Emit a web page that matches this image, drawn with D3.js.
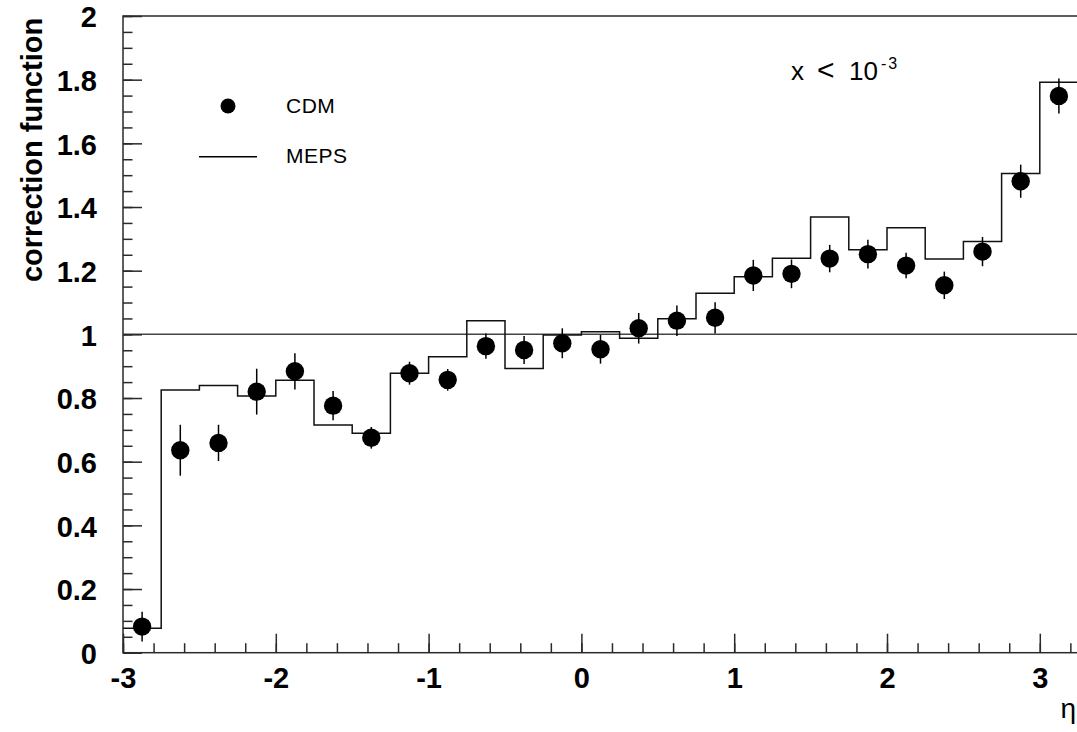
<!DOCTYPE html>
<html>
<head>
<meta charset="utf-8">
<script src="https://cdn.jsdelivr.net/npm/d3@7"></script>
<style>
  html, body { margin: 0; padding: 0; background: #fff; }
  svg { display: block; }
</style>
</head>
<body>
<svg id="chart" width="1077" height="732"></svg>
<script>
// ---- data ----
const binEdges = [-3.0, -2.75, -2.5, -2.25, -2.0, -1.75, -1.5, -1.25, -1.0, -0.75, -0.5, -0.25, 0.0,
                  0.25, 0.5, 0.75, 1.0, 1.25, 1.5, 1.75, 2.0, 2.25, 2.5, 2.75, 3.0, 3.25];
const etaCenters = [-2.875, -2.625, -2.375, -2.125, -1.875, -1.625, -1.375, -1.125, -0.875, -0.625, -0.375, -0.125,
                    0.125, 0.375, 0.625, 0.875, 1.125, 1.375, 1.625, 1.875, 2.125, 2.375, 2.625, 2.875, 3.125];
const cdmValues = [0.082, 0.636, 0.659, 0.820, 0.884, 0.776, 0.675, 0.878, 0.857, 0.963, 0.951, 0.972,
                   0.953, 1.019, 1.043, 1.052, 1.185, 1.190, 1.238, 1.252, 1.216, 1.154, 1.260, 1.481, 1.749];
const cdmErrors = [0.047, 0.080, 0.057, 0.072, 0.057, 0.046, 0.034, 0.036, 0.034, 0.040, 0.044, 0.047,
                   0.045, 0.048, 0.048, 0.049, 0.049, 0.045, 0.043, 0.045, 0.040, 0.043, 0.046, 0.052, 0.055];
const mepsValues = [0.077, 0.825, 0.839, 0.806, 0.856, 0.715, 0.689, 0.878, 0.930, 1.043, 0.893, 0.998,
                    1.008, 0.988, 1.049, 1.129, 1.181, 1.239, 1.369, 1.266, 1.335, 1.237, 1.292, 1.505, 1.792];
const xTickValues = [-3, -2, -1, 0, 1, 2, 3];
const xTickLabels = ["-3", "-2", "-1", "0", "1", "2", "3"];
const yTickValues = [0, 0.2, 0.4, 0.6, 0.8, 1, 1.2, 1.4, 1.6, 1.8, 2];
const yTickLabels = ["0", "0.2", "0.4", "0.6", "0.8", "1", "1.2", "1.4", "1.6", "1.8", "2"];
const legendLabels = ["CDM", "MEPS"];
const xTitle = "η";
const yTitle = "correction function";

// ---- layout ----
const L = 123, R = 1078, T = 16, B = 652.7;
const svg = d3.select("#chart");
const x = d3.scaleLinear().domain([-3, 3.25]).range([L, R]);
const y = d3.scaleLinear().domain([0, 2]).range([B, T]);
const axisColor = "#2a2a2a";
const font = "'Liberation Sans', Arial, Helvetica, sans-serif";

// frame
svg.append("rect")
  .attr("x", L).attr("y", T).attr("width", R - L).attr("height", B - T)
  .attr("fill", "none").attr("stroke", axisColor).attr("stroke-width", 1.5);

// reference line at 1
svg.append("line")
  .attr("x1", L).attr("x2", R).attr("y1", y(1)).attr("y2", y(1))
  .attr("stroke", "#444").attr("stroke-width", 1.5);

// minor ticks
const xMinor = d3.range(-3, 3.25, 0.2).map(v => +v.toFixed(2));
const yMinor = d3.range(0, 2.001, 0.05).map(v => +v.toFixed(2));
svg.append("g").attr("transform", `translate(0,${B})`)
  .call(d3.axisBottom(x).tickValues(xMinor).tickSize(-9.5).tickFormat(""))
  .call(g => g.select(".domain").remove())
  .call(g => g.selectAll("line").attr("stroke", axisColor).attr("stroke-width", 1.5));
svg.append("g").attr("transform", `translate(${L},0)`)
  .call(d3.axisLeft(y).tickValues(yMinor).tickSize(-9.5).tickFormat(""))
  .call(g => g.select(".domain").remove())
  .call(g => g.selectAll("line").attr("stroke", axisColor).attr("stroke-width", 1.5));

// major ticks + labels
svg.append("g").attr("transform", `translate(0,${B})`)
  .call(d3.axisBottom(x).tickValues(xTickValues).tickSize(-19)
        .tickFormat((d, i) => xTickLabels[i]))
  .call(g => g.select(".domain").remove())
  .call(g => g.selectAll("line").attr("stroke", axisColor).attr("stroke-width", 1.5))
  .call(g => g.selectAll("text").attr("y", 35.5).attr("dy", 0)
        .attr("font-family", font).attr("font-weight", "bold").attr("font-size", 29).attr("fill", "#000"));
svg.append("g").attr("transform", `translate(${L},0)`)
  .call(d3.axisLeft(y).tickValues(yTickValues).tickSize(-19)
        .tickFormat((d, i) => yTickLabels[i]))
  .call(g => g.select(".domain").remove())
  .call(g => g.selectAll("line").attr("stroke", axisColor).attr("stroke-width", 1.5))
  .call(g => g.selectAll("text").attr("x", -26).attr("dy", "0.37em")
        .attr("font-family", font).attr("font-weight", "bold").attr("font-size", 29).attr("fill", "#000"));

// MEPS histogram
const stepPts = binEdges.map((e, i) => [e, i < mepsValues.length ? mepsValues[i] : mepsValues[mepsValues.length - 1]]);
svg.append("path")
  .datum(stepPts)
  .attr("d", d3.line().x(d => x(d[0])).y(d => y(d[1])).curve(d3.curveStepAfter))
  .attr("fill", "none").attr("stroke", "#111").attr("stroke-width", 1.5);

// CDM points with error bars
const pts = etaCenters.map((e, i) => ({ e, v: cdmValues[i], err: cdmErrors[i] }));
svg.append("g").selectAll("line").data(pts).join("line")
  .attr("x1", d => x(d.e)).attr("x2", d => x(d.e))
  .attr("y1", d => y(d.v + d.err)).attr("y2", d => y(d.v - d.err))
  .attr("stroke", "#000").attr("stroke-width", 1.5);
svg.append("g").selectAll("circle").data(pts).join("circle")
  .attr("cx", d => x(d.e)).attr("cy", d => y(d.v)).attr("r", 9.2)
  .attr("fill", "#000");

// legend
svg.append("circle").attr("cx", 228).attr("cy", 106).attr("r", 7.5).attr("fill", "#000");
svg.append("text").attr("x", 286).attr("y", 112.7).text(legendLabels[0])
  .attr("font-family", font).attr("font-size", 21).attr("letter-spacing", 0.5).attr("fill", "#000");
svg.append("line").attr("x1", 199).attr("x2", 257).attr("y1", 156.7).attr("y2", 156.7)
  .attr("stroke", "#000").attr("stroke-width", 1.5);
svg.append("text").attr("x", 286).attr("y", 162.7).text(legendLabels[1])
  .attr("font-family", font).attr("font-size", 21).attr("letter-spacing", 0.5).attr("fill", "#000");

// annotation x < 10^-3
const ann = svg.append("text").attr("y", 80)
  .attr("font-family", font).attr("font-size", 26).attr("fill", "#000");
ann.append("tspan").attr("x", 791).text("x");
ann.append("tspan").attr("x", 817).attr("font-size", 30).text("<");
ann.append("tspan").attr("x", 849).text("10");
ann.append("tspan").attr("x", 881).attr("y", 69).attr("font-size", 16).attr("letter-spacing", 2).text("-3");

// axis titles
svg.append("text").attr("x", 1076).attr("y", 718).attr("text-anchor", "end")
  .attr("font-family", font).attr("font-size", 28).attr("fill", "#000").text(xTitle);
svg.append("text").attr("transform", "translate(42,150) rotate(-90)").attr("text-anchor", "middle")
  .attr("font-family", font).attr("font-weight", "bold").attr("font-size", 29).attr("fill", "#000")
  .text(yTitle);
</script>
</body>
</html>
